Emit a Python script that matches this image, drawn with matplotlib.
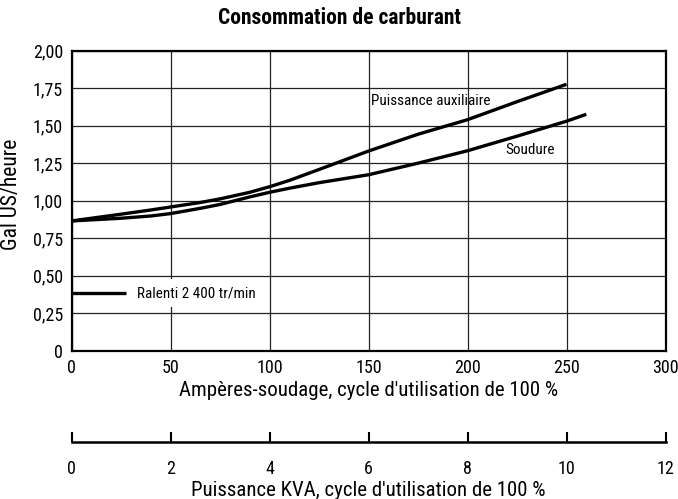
import matplotlib
matplotlib.use("Agg")
import matplotlib.pyplot as plt
from matplotlib import font_manager

names = {f.name for f in font_manager.fontManager.ttflist}
FAM = "Roboto Condensed" if "Roboto Condensed" in names else "Roboto"
plt.rcParams['font.family'] = [FAM, 'DejaVu Sans']

# Data
amps_aux = [0, 25, 40, 50, 65, 75, 90, 100, 110, 125, 150, 175, 200, 225, 250]
gal_aux = [0.865, 0.91, 0.938, 0.958, 0.988, 1.012, 1.056, 1.093, 1.135, 1.208, 1.331,
           1.443, 1.54, 1.66, 1.776]
amps_weld = [0, 25, 40, 50, 65, 75, 90, 100, 110, 125, 150, 175, 200, 225, 250, 260]
gal_weld = [0.865, 0.883, 0.898, 0.914, 0.949, 0.975, 1.025, 1.056, 1.083, 1.12, 1.173,
            1.25, 1.333, 1.43, 1.53, 1.576]
idle_amps = [0, 27.5]
idle_gal = [0.383, 0.383]

x_ticks = [0, 50, 100, 150, 200, 250, 300]
y_ticks = [0, 0.25, 0.5, 0.75, 1.0, 1.25, 1.5, 1.75, 2.0]
y_ticklabels = ["0", "0,25", "0,50", "0,75", "1,00", "1,25", "1,50", "1,75", "2,00"]
kva_ticks = [0, 2, 4, 6, 8, 10, 12]

W, H = 678, 499
fig = plt.figure(figsize=(W / 100, H / 100), dpi=100)
L, R, T, B = 71.5, 665.5, 50.7, 350.7
ax = fig.add_axes([L / W, 1 - B / H, (R - L) / W, (B - T) / H])

ax.set_xlim(0, 300)
ax.set_ylim(0, 2.0)
ax.set_xticks(x_ticks)
ax.set_yticks(y_ticks)
ax.set_yticklabels(y_ticklabels)
ax.tick_params(length=0, labelsize=13, pad=6)
ax.grid(True, color="#222222", linewidth=0.9, zorder=0)
ax.set_axisbelow(True)
for s in ax.spines.values():
    s.set_linewidth(1.6)
    s.set_color("black")

ax.plot(amps_aux, gal_aux, color="black", lw=2.4, solid_capstyle="butt",
        solid_joinstyle="round", zorder=3)
ax.plot(amps_weld, gal_weld, color="black", lw=2.4, solid_capstyle="butt",
        solid_joinstyle="round", zorder=3)
ax.plot(idle_amps, idle_gal, color="black", lw=2.4, solid_capstyle="butt", zorder=3)

ax.text(151.5, 1.665, "Puissance auxiliaire", fontsize=10.9, va="center", ha="left", zorder=4)
ax.text(219, 1.335, "Soudure", fontsize=10.9, va="center", ha="left", zorder=4)
ax.text(33, 0.383, "Ralenti 2 400 tr/min", fontsize=10.9, va="center", ha="left", zorder=2,
        bbox=dict(facecolor="white", edgecolor="none", pad=5))

ax.set_xlabel("Ampères-soudage, cycle d'utilisation de 100 %", fontsize=15, labelpad=3)
fig.text(12 / W, 1 - 194 / H, "Gal US/heure", fontsize=15.5, rotation=90,
         ha="center", va="center")
fig.text(0.5, 1 - 18 / H, "Consommation de carburant", fontsize=15.5, fontweight="bold",
         ha="center", va="center")

# secondary KVA axis
yb = 441.7
ax2 = fig.add_axes([L / W, 1 - yb / H, (R - L) / W, 0.001])
ax2.set_xlim(0, 12)
ax2.set_xticks(kva_ticks)
ax2.set_yticks([])
for k in ["top", "left", "right"]:
    ax2.spines[k].set_visible(False)
ax2.spines["bottom"].set_linewidth(1.8)
ax2.patch.set_visible(False)
ax2.tick_params(axis="x", direction="in", length=7, width=1.5, labelsize=13, pad=13)
ax2.set_xlabel("Puissance KVA, cycle d'utilisation de 100 %", fontsize=15, labelpad=2)

fig.savefig("out.png", dpi=100)
